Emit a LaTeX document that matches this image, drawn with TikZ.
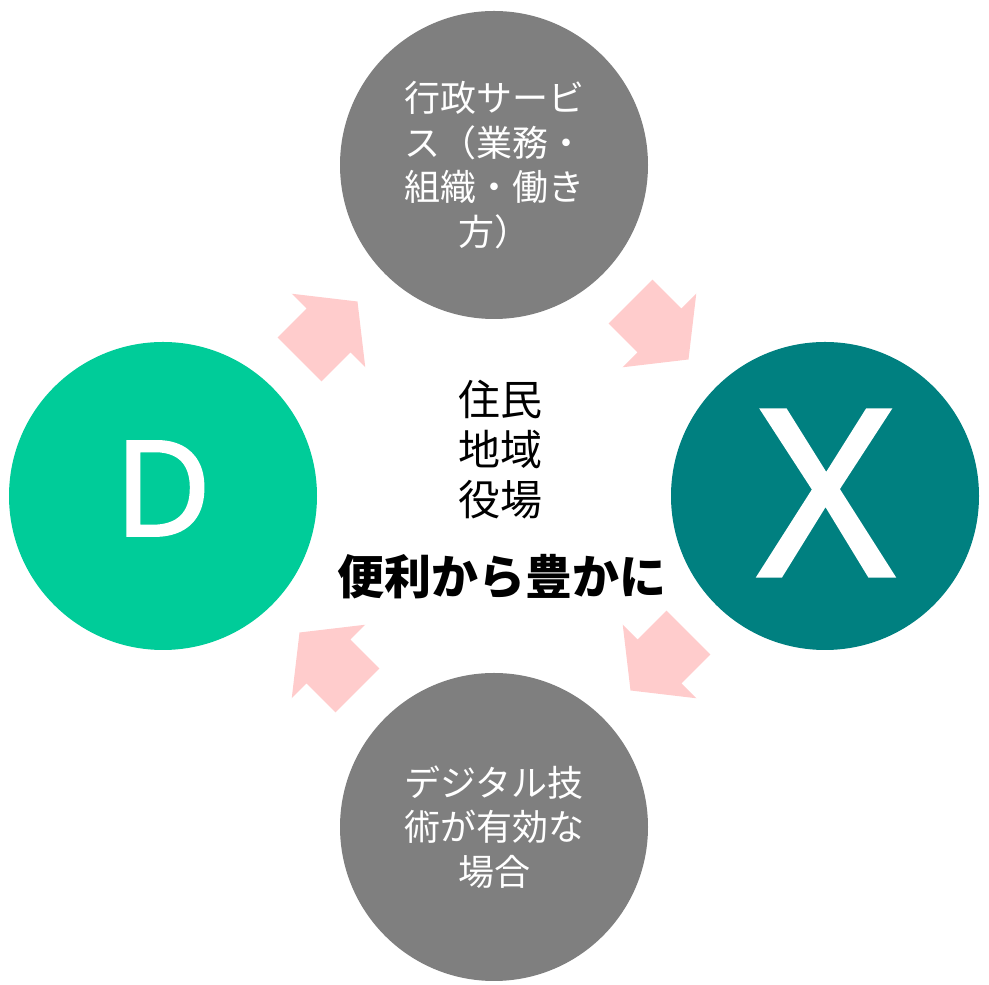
\documentclass[tikz,border=0pt]{standalone}
\usepackage{fontspec}
\setmainfont{Noto Sans}
\newfontfamily\jpfont{Noto Sans CJK JP}
\newfontfamily\letterfont[FakeBold=1.5]{Noto Sans}
\usepackage{tikz}
\usetikzlibrary{calc}

\definecolor{dxgray}{HTML}{7F7F7F}
\definecolor{dxteal}{HTML}{008080}
\definecolor{dxgreen}{HTML}{00CC99}
\definecolor{arrowpink}{HTML}{FFCCCC}

\begin{document}
\begin{tikzpicture}
  [x=1pt, y=1pt,
   ball/.style={circle, minimum size=308pt, inner sep=0pt},
   grayball/.style={ball, fill=dxgray, text=white, align=center,
     font=\jpfont\fontsize{36}{44.5}\selectfont},
   bigletter/.style={text=white, inner sep=0pt},
   flow/.style={fill=arrowpink}]
  \useasboundingbox (0,0) rectangle (989,985);
  \node[grayball] (service) at (494,820) {行政サービ\\ス（業務・\\組織・働き\\方）};
  \node[ball, fill=dxteal] (xnode) at (825,489) {};
  \node[grayball] (tech) at (494,158) {デジタル技\\術が有効な\\場合};
  \node[ball, fill=dxgreen] (dnode) at (163,489) {};
  \node[bigletter, font=\letterfont\fontsize{133}{133}\selectfont] (dtext) at ([yshift=7.5pt]dnode.center) {D};
  \node[bigletter, font=\letterfont\fontsize{232}{232}\selectfont] (xtext) at ([xshift=1pt, yshift=3pt]xnode.center) {X};
  % arrows round the cycle
  \fill[flow, shift={($(dnode)!0.5!(service)$)}, rotate=45]
    (-41,-31) -- (0,-31) -- (0,-52) -- (41,0) -- (0,52) -- (0,31) -- (-41,31) -- cycle;
  \fill[flow, shift={($(service)!0.5!(xnode)$)}, rotate=-45]
    (-41,-31) -- (0,-31) -- (0,-52) -- (41,0) -- (0,52) -- (0,31) -- (-41,31) -- cycle;
  \fill[flow, shift={($(xnode)!0.5!(tech)$)}, rotate=-135]
    (-41,-31) -- (0,-31) -- (0,-52) -- (41,0) -- (0,52) -- (0,31) -- (-41,31) -- cycle;
  \fill[flow, shift={($(tech)!0.5!(dnode)$)}, rotate=135]
    (-41,-31) -- (0,-31) -- (0,-52) -- (41,0) -- (0,52) -- (0,31) -- (-41,31) -- cycle;
  % middle
  \node[font=\jpfont\fontsize{42}{50}\selectfont, align=center] (people) at (500,535.5) {住民\\地域\\役場};
  \node[font=\jpfont\bfseries\fontsize{47}{47}\selectfont] (motto) at (502,408) {便利から豊かに};
\end{tikzpicture}
\end{document}
